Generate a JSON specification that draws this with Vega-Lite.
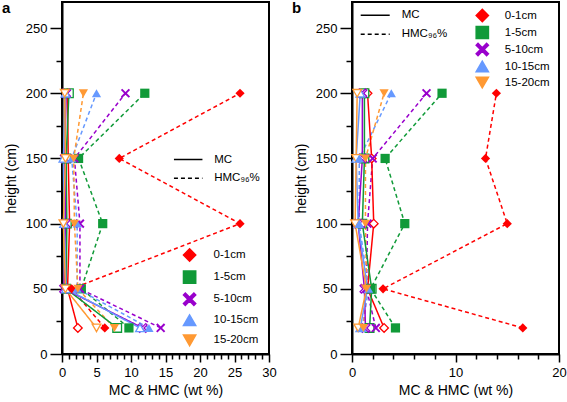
{
  "$schema": "https://vega.github.io/schema/vega-lite/v6.json",
  "padding": {"left": 1, "top": 0, "right": 0, "bottom": 0},
  "background": "white",
  "config": {
    "font": "Liberation Sans",
    "view": {"stroke": "black", "strokeWidth": 2},
    "axis": {"domainColor": "black", "domainWidth": 2, "tickColor": "black", "tickWidth": 1.5, "labelColor": "black", "labelFontSize": 13, "titleFontSize": 14, "titleFontWeight": "normal", "titleColor": "black", "grid": false, "labelFlush": false, "labelOverlap": false},
    "legend": {"labelFontSize": 11.5, "labelColor": "black", "padding": 0, "title": null}
  },
  "data": {"values": [
    {"panel":"a","depth":"0-1cm","type":"HMC","height":20,"value":6.2},
    {"panel":"a","depth":"0-1cm","type":"HMC","height":50,"value":1.4},
    {"panel":"a","depth":"0-1cm","type":"HMC","height":100,"value":25.8},
    {"panel":"a","depth":"0-1cm","type":"HMC","height":150,"value":8.3},
    {"panel":"a","depth":"0-1cm","type":"HMC","height":200,"value":25.8},
    {"panel":"a","depth":"1-5cm","type":"HMC","height":20,"value":9.7},
    {"panel":"a","depth":"1-5cm","type":"HMC","height":50,"value":2.8},
    {"panel":"a","depth":"1-5cm","type":"HMC","height":100,"value":5.9},
    {"panel":"a","depth":"1-5cm","type":"HMC","height":150,"value":2.4},
    {"panel":"a","depth":"1-5cm","type":"HMC","height":200,"value":12.0},
    {"panel":"a","depth":"5-10cm","type":"HMC","height":20,"value":14.3},
    {"panel":"a","depth":"5-10cm","type":"HMC","height":50,"value":2.6},
    {"panel":"a","depth":"5-10cm","type":"HMC","height":100,"value":2.6},
    {"panel":"a","depth":"5-10cm","type":"HMC","height":150,"value":1.8},
    {"panel":"a","depth":"5-10cm","type":"HMC","height":200,"value":9.2},
    {"panel":"a","depth":"10-15cm","type":"HMC","height":20,"value":12.6},
    {"panel":"a","depth":"10-15cm","type":"HMC","height":50,"value":2.2},
    {"panel":"a","depth":"10-15cm","type":"HMC","height":100,"value":2.2},
    {"panel":"a","depth":"10-15cm","type":"HMC","height":150,"value":1.4},
    {"panel":"a","depth":"10-15cm","type":"HMC","height":200,"value":5.0},
    {"panel":"a","depth":"15-20cm","type":"HMC","height":20,"value":7.6},
    {"panel":"a","depth":"15-20cm","type":"HMC","height":50,"value":2.3},
    {"panel":"a","depth":"15-20cm","type":"HMC","height":100,"value":1.8},
    {"panel":"a","depth":"15-20cm","type":"HMC","height":150,"value":1.7},
    {"panel":"a","depth":"15-20cm","type":"HMC","height":200,"value":3.1},
    {"panel":"a","depth":"0-1cm","type":"MC","height":20,"value":2.3},
    {"panel":"a","depth":"0-1cm","type":"MC","height":50,"value":0.8},
    {"panel":"a","depth":"0-1cm","type":"MC","height":100,"value":1.1},
    {"panel":"a","depth":"0-1cm","type":"MC","height":150,"value":0.9},
    {"panel":"a","depth":"0-1cm","type":"MC","height":200,"value":0.8},
    {"panel":"a","depth":"1-5cm","type":"MC","height":20,"value":8.0},
    {"panel":"a","depth":"1-5cm","type":"MC","height":50,"value":0.6},
    {"panel":"a","depth":"1-5cm","type":"MC","height":100,"value":0.7},
    {"panel":"a","depth":"1-5cm","type":"MC","height":150,"value":0.6},
    {"panel":"a","depth":"1-5cm","type":"MC","height":200,"value":1.0},
    {"panel":"a","depth":"5-10cm","type":"MC","height":20,"value":11.7},
    {"panel":"a","depth":"5-10cm","type":"MC","height":50,"value":0.3},
    {"panel":"a","depth":"5-10cm","type":"MC","height":100,"value":0.5},
    {"panel":"a","depth":"5-10cm","type":"MC","height":150,"value":0.4},
    {"panel":"a","depth":"5-10cm","type":"MC","height":200,"value":0.6},
    {"panel":"a","depth":"10-15cm","type":"MC","height":20,"value":11.3},
    {"panel":"a","depth":"10-15cm","type":"MC","height":50,"value":0.6},
    {"panel":"a","depth":"10-15cm","type":"MC","height":100,"value":0.3},
    {"panel":"a","depth":"10-15cm","type":"MC","height":150,"value":0.2},
    {"panel":"a","depth":"10-15cm","type":"MC","height":200,"value":0.5},
    {"panel":"a","depth":"15-20cm","type":"MC","height":20,"value":5.0},
    {"panel":"a","depth":"15-20cm","type":"MC","height":50,"value":0.5},
    {"panel":"a","depth":"15-20cm","type":"MC","height":100,"value":0.2},
    {"panel":"a","depth":"15-20cm","type":"MC","height":150,"value":0.5},
    {"panel":"a","depth":"15-20cm","type":"MC","height":200,"value":0.4},
    {"panel":"b","depth":"0-1cm","type":"HMC","height":20,"value":16.5},
    {"panel":"b","depth":"0-1cm","type":"HMC","height":50,"value":3.0},
    {"panel":"b","depth":"0-1cm","type":"HMC","height":100,"value":15.0},
    {"panel":"b","depth":"0-1cm","type":"HMC","height":150,"value":12.9},
    {"panel":"b","depth":"0-1cm","type":"HMC","height":200,"value":13.95},
    {"panel":"b","depth":"1-5cm","type":"HMC","height":20,"value":4.2},
    {"panel":"b","depth":"1-5cm","type":"HMC","height":50,"value":1.8},
    {"panel":"b","depth":"1-5cm","type":"HMC","height":100,"value":5.1},
    {"panel":"b","depth":"1-5cm","type":"HMC","height":150,"value":3.2},
    {"panel":"b","depth":"1-5cm","type":"HMC","height":200,"value":8.7},
    {"panel":"b","depth":"5-10cm","type":"HMC","height":20,"value":2.3},
    {"panel":"b","depth":"5-10cm","type":"HMC","height":50,"value":1.4},
    {"panel":"b","depth":"5-10cm","type":"HMC","height":100,"value":1.5},
    {"panel":"b","depth":"5-10cm","type":"HMC","height":150,"value":2.0},
    {"panel":"b","depth":"5-10cm","type":"HMC","height":200,"value":7.2},
    {"panel":"b","depth":"10-15cm","type":"HMC","height":20,"value":1.0},
    {"panel":"b","depth":"10-15cm","type":"HMC","height":50,"value":1.6},
    {"panel":"b","depth":"10-15cm","type":"HMC","height":100,"value":0.7},
    {"panel":"b","depth":"10-15cm","type":"HMC","height":150,"value":0.7},
    {"panel":"b","depth":"10-15cm","type":"HMC","height":200,"value":3.8},
    {"panel":"b","depth":"15-20cm","type":"HMC","height":20,"value":1.1},
    {"panel":"b","depth":"15-20cm","type":"HMC","height":50,"value":1.4},
    {"panel":"b","depth":"15-20cm","type":"HMC","height":100,"value":1.3},
    {"panel":"b","depth":"15-20cm","type":"HMC","height":150,"value":1.3},
    {"panel":"b","depth":"15-20cm","type":"HMC","height":200,"value":3.1},
    {"panel":"b","depth":"0-1cm","type":"MC","height":20,"value":3.1},
    {"panel":"b","depth":"0-1cm","type":"MC","height":50,"value":1.5},
    {"panel":"b","depth":"0-1cm","type":"MC","height":100,"value":2.1},
    {"panel":"b","depth":"0-1cm","type":"MC","height":150,"value":1.9},
    {"panel":"b","depth":"0-1cm","type":"MC","height":200,"value":1.5},
    {"panel":"b","depth":"1-5cm","type":"MC","height":20,"value":1.7},
    {"panel":"b","depth":"1-5cm","type":"MC","height":50,"value":1.9},
    {"panel":"b","depth":"1-5cm","type":"MC","height":100,"value":1.0},
    {"panel":"b","depth":"1-5cm","type":"MC","height":150,"value":1.2},
    {"panel":"b","depth":"1-5cm","type":"MC","height":200,"value":1.2},
    {"panel":"b","depth":"5-10cm","type":"MC","height":20,"value":1.3},
    {"panel":"b","depth":"5-10cm","type":"MC","height":50,"value":1.2},
    {"panel":"b","depth":"5-10cm","type":"MC","height":100,"value":0.6},
    {"panel":"b","depth":"5-10cm","type":"MC","height":150,"value":1.0},
    {"panel":"b","depth":"5-10cm","type":"MC","height":200,"value":1.0},
    {"panel":"b","depth":"10-15cm","type":"MC","height":20,"value":0.8},
    {"panel":"b","depth":"10-15cm","type":"MC","height":50,"value":1.5},
    {"panel":"b","depth":"10-15cm","type":"MC","height":100,"value":0.6},
    {"panel":"b","depth":"10-15cm","type":"MC","height":150,"value":0.4},
    {"panel":"b","depth":"10-15cm","type":"MC","height":200,"value":0.8},
    {"panel":"b","depth":"15-20cm","type":"MC","height":20,"value":0.6},
    {"panel":"b","depth":"15-20cm","type":"MC","height":50,"value":1.4},
    {"panel":"b","depth":"15-20cm","type":"MC","height":100,"value":0.3},
    {"panel":"b","depth":"15-20cm","type":"MC","height":150,"value":0.4},
    {"panel":"b","depth":"15-20cm","type":"MC","height":200,"value":0.5}
  ]},
  "spacing": 13,
  "resolve": {"scale": {"x": "independent"}, "legend": {"color": "independent", "shape": "independent", "strokeDash": "independent"}},
  "hconcat": [
    {
      "width": 207, "height": 352,
      "title": {"text": "a", "anchor": "start", "frame": "group", "offset": -14, "dx": -60, "fontSize": 15, "fontWeight": "bold", "color": "black"},
      "transform": [{"filter": "datum.panel === 'a'"}],
      "encoding": {
        "x": {"field": "value", "type": "quantitative", "scale": {"domain": [0, 30], "nice": false},
              "axis": {"title": "MC & HMC (wt %)", "values": [0,1,2,3,4,5,6,7,8,9,10,11,12,13,14,15,16,17,18,19,20,21,22,23,24,25,26,27,28,29,30],
                       "labelExpr": "datum.value % 5 === 0 ? datum.label : ''", "tickSize": {"condition": {"test": "datum.value % 5 === 0", "value": 8}, "value": 5}, "labelPadding": 4, "titlePadding": 4}},
        "y": {"field": "height", "type": "quantitative", "scale": {"domain": [0, 270], "nice": false},
              "axis": {"title": "height (cm)", "values": [0,25,50,75,100,125,150,175,200,225,250],
                       "labelExpr": "datum.value % 50 === 0 ? datum.label : ''", "tickSize": {"condition": {"test": "datum.value % 50 === 0", "value": 12}, "value": 6}, "labelPadding": 3, "titlePadding": 7}},
        "color": {"field": "depth", "type": "nominal", "scale": {"domain": ["0-1cm","1-5cm","5-10cm","10-15cm","15-20cm"], "range": ["#ff0000","#109a38","#9900cc","#6699ff","#ff9933"]},
                  "legend": {"orient": "none", "legendX": 120.6, "legendY": 246, "symbolSize": 150, "rowPadding": 2.1, "labelOffset": 17, "symbolOpacity": 1}}
      },
      "layer": [
        {"mark": {"type": "line", "strokeWidth": 1.5},
         "encoding": {
           "strokeDash": {"field": "type", "type": "nominal", "scale": {"domain": ["MC","HMC"], "range": [[1,0],[4,3]]},
                          "legend": {"orient": "none", "legendX": 120.2, "legendY": 151.5, "symbolType": "M-2.85,0H2.85", "symbolSize": 100, "symbolStrokeColor": "black", "symbolStrokeWidth": 1.5, "labelOffset": 20, "rowPadding": 6.8, "labelExpr": "datum.label === 'HMC' ? 'HMC₉₆%' : datum.label"}},
           "order": {"field": "height", "type": "quantitative"}
         }},
        {"transform": [{"filter": "datum.type === 'MC'"}],
         "mark": {"type": "point", "filled": false, "fill": "white", "strokeWidth": 1.3, "size": 75, "opacity": 1},
         "encoding": {"shape": {"field": "depth", "type": "nominal", "scale": {"domain": ["0-1cm","1-5cm","5-10cm","10-15cm","15-20cm"], "range": ["diamond","square","M-1,-0.7L-0.7,-1L0,-0.3L0.7,-1L1,-0.7L0.3,0L1,0.7L0.7,1L0,0.3L-0.7,1L-1,0.7L-0.3,0Z","triangle-up","triangle-down"]}}}},
        {"transform": [{"filter": "datum.type === 'HMC'"}],
         "mark": {"type": "point", "filled": true, "size": 85, "opacity": 1},
         "encoding": {"shape": {"field": "depth", "type": "nominal", "scale": {"domain": ["0-1cm","1-5cm","5-10cm","10-15cm","15-20cm"], "range": ["diamond","square","M-1,-0.7L-0.7,-1L0,-0.3L0.7,-1L1,-0.7L0.3,0L1,0.7L0.7,1L0,0.3L-0.7,1L-1,0.7L-0.3,0Z","triangle-up","triangle-down"]}}}}
      ]
    },
    {
      "width": 207, "height": 352,
      "title": {"text": "b", "anchor": "start", "frame": "group", "offset": -14, "dx": -60, "fontSize": 15, "fontWeight": "bold", "color": "black"},
      "transform": [{"filter": "datum.panel === 'b'"}],
      "encoding": {
        "x": {"field": "value", "type": "quantitative", "scale": {"domain": [0, 20], "nice": false},
              "axis": {"title": "MC & HMC (wt %)", "values": [0,2,4,6,8,10,12,14,16,18,20],
                       "labelExpr": "datum.value % 10 === 0 ? datum.label : ''", "tickSize": {"condition": {"test": "datum.value % 10 === 0", "value": 8}, "value": 5}, "labelPadding": 4, "titlePadding": 4}},
        "y": {"field": "height", "type": "quantitative", "scale": {"domain": [0, 270], "nice": false},
              "axis": {"title": "height (cm)", "values": [0,25,50,75,100,125,150,175,200,225,250],
                       "labelExpr": "datum.value % 50 === 0 ? datum.label : ''", "tickSize": {"condition": {"test": "datum.value % 50 === 0", "value": 12}, "value": 6}, "labelPadding": 3, "titlePadding": 7}},
        "color": {"field": "depth", "type": "nominal", "scale": {"domain": ["0-1cm","1-5cm","5-10cm","10-15cm","15-20cm"], "range": ["#ff0000","#109a38","#9900cc","#6699ff","#ff9933"]},
                  "legend": {"orient": "none", "legendX": 123.3, "legendY": 6.5, "symbolSize": 150, "rowPadding": -3.6, "labelOffset": 15.5, "symbolOpacity": 1}}
      },
      "layer": [
        {"mark": {"type": "line", "strokeWidth": 1.5},
         "encoding": {
           "strokeDash": {"field": "type", "type": "nominal", "scale": {"domain": ["MC","HMC"], "range": [[1,0],[4,3]]},
                          "legend": {"orient": "none", "legendX": 17.2, "legendY": 7.3, "symbolType": "M-2.9,0H2.9", "symbolSize": 100, "symbolStrokeColor": "black", "symbolStrokeWidth": 1.5, "labelOffset": 20.5, "rowPadding": 7, "labelExpr": "datum.label === 'HMC' ? 'HMC₉₆%' : datum.label"}},
           "order": {"field": "height", "type": "quantitative"}
         }},
        {"transform": [{"filter": "datum.type === 'MC'"}],
         "mark": {"type": "point", "filled": false, "fill": "white", "strokeWidth": 1.3, "size": 75, "opacity": 1},
         "encoding": {"shape": {"field": "depth", "type": "nominal", "scale": {"domain": ["0-1cm","1-5cm","5-10cm","10-15cm","15-20cm"], "range": ["diamond","square","M-1,-0.7L-0.7,-1L0,-0.3L0.7,-1L1,-0.7L0.3,0L1,0.7L0.7,1L0,0.3L-0.7,1L-1,0.7L-0.3,0Z","triangle-up","triangle-down"]}}}},
        {"transform": [{"filter": "datum.type === 'HMC'"}],
         "mark": {"type": "point", "filled": true, "size": 85, "opacity": 1},
         "encoding": {"shape": {"field": "depth", "type": "nominal", "scale": {"domain": ["0-1cm","1-5cm","5-10cm","10-15cm","15-20cm"], "range": ["diamond","square","M-1,-0.7L-0.7,-1L0,-0.3L0.7,-1L1,-0.7L0.3,0L1,0.7L0.7,1L0,0.3L-0.7,1L-1,0.7L-0.3,0Z","triangle-up","triangle-down"]}}}}
      ]
    }
  ]
}
